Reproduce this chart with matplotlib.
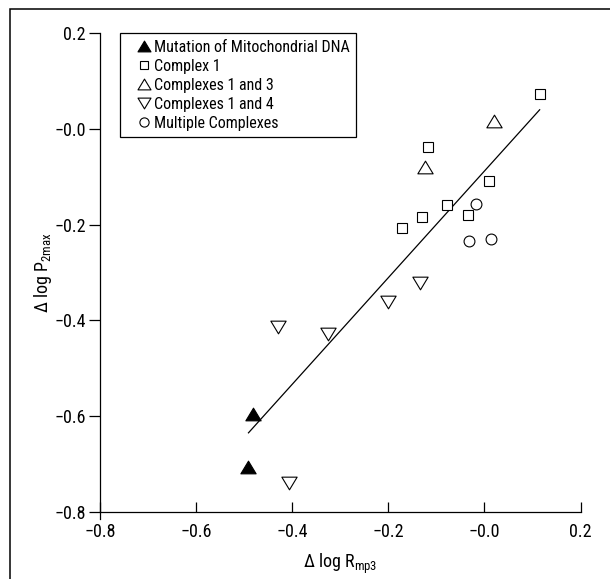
import matplotlib
matplotlib.use("Agg")
import matplotlib.pyplot as plt
from matplotlib import font_manager
from matplotlib.path import Path

names = {f.name for f in font_manager.fontManager.ttflist}
FONT = next((n for n in ['Nimbus Sans Narrow', 'Roboto Condensed', 'Archivo Narrow',
                         'PT Sans Narrow', 'Liberation Sans Narrow', 'Liberation Sans']
             if n in names), 'DejaVu Sans')
plt.rcParams['font.family'] = [FONT, 'DejaVu Sans']
plt.rcParams['mathtext.fontset'] = 'custom'
plt.rcParams['mathtext.rm'] = FONT
plt.rcParams['mathtext.it'] = FONT

# ---- data ----
mito_x = [-0.481, -0.492]
mito_y = [-0.595, -0.707]
c1_x = [0.115, -0.118, 0.010, -0.078, -0.129, -0.172, -0.034]
c1_y = [0.074, -0.038, -0.109, -0.160, -0.185, -0.207, -0.180]
c13_x = [0.021, -0.123]
c13_y = [0.016, -0.079]
c14_x = [-0.429, -0.325, -0.200, -0.133, -0.407]
c14_y = [-0.413, -0.429, -0.362, -0.322, -0.739]
multi_x = [-0.017, -0.032, 0.013]
multi_y = [-0.156, -0.234, -0.231]
fit_x = [-0.491, 0.115]
fit_y = [-0.635, 0.040]

labels = ['Mutation of Mitochondrial DNA', 'Complex 1', 'Complexes 1 and 3',
          'Complexes 1 and 4', 'Multiple Complexes']
tick_vals = [-0.8, -0.6, -0.4, -0.2, 0.0, 0.2]
tick_labels = ['\u22120.8', '\u22120.6', '\u22120.4', '\u22120.2', '\u22120.0', '0.2']

# wide triangles
up_tri = Path([(-1, -0.83), (1, -0.83), (0, 0.83), (-1, -0.83)],
              [Path.MOVETO, Path.LINETO, Path.LINETO, Path.CLOSEPOLY])
down_tri = Path([(-1, 0.83), (1, 0.83), (0, -0.83), (-1, 0.83)],
                [Path.MOVETO, Path.LINETO, Path.LINETO, Path.CLOSEPOLY])

fig = plt.figure(figsize=(6.10, 5.79), dpi=100)
ax = fig.add_axes([100/610, 1-511.8/579, 480.5/610, (511.8-33.2)/579])

# frame around the figure
fig.add_artist(plt.Rectangle((9.7/610, -0.05), 1.2, 1-9.2/579+0.05,
                             transform=fig.transFigure, fill=False,
                             edgecolor='black', linewidth=1.1))

ax.plot(fit_x, fit_y, color='black', linewidth=0.9)
mk = dict(linestyle='none', markeredgecolor='black', markeredgewidth=0.8)
h1, = ax.plot(mito_x, mito_y, marker=up_tri, markersize=11, color='black', **mk)
h2, = ax.plot(c1_x, c1_y, marker='s', markersize=7.2, markerfacecolor='white', **mk)
h3, = ax.plot(c13_x, c13_y, marker=up_tri, markersize=11, markerfacecolor='white', **mk)
h4, = ax.plot(c14_x, c14_y, marker=down_tri, markersize=11, markerfacecolor='white', **mk)
h5, = ax.plot(multi_x, multi_y, marker='o', markersize=7.8, markerfacecolor='white', **mk)

ax.set_xlim(-0.8, 0.2)
ax.set_ylim(-0.8, 0.2)
ax.set_xticks(tick_vals)
ax.set_xticklabels(tick_labels)
ax.set_yticks(tick_vals)
ax.set_yticklabels(tick_labels)
ax.tick_params(axis='x', direction='in', length=7, width=0.9, labelsize=13, pad=8)
ax.tick_params(axis='y', direction='out', length=8, width=0.9, labelsize=13, pad=2)
for s in ['top', 'right']:
    ax.spines[s].set_visible(False)
for s in ['left', 'bottom']:
    ax.spines[s].set_linewidth(0.9)
ax.spines['left'].set_bounds(-0.815, 0.2)

ax.set_xlabel('\u0394 log R$_{\\mathrm{mp3}}$', fontsize=13, labelpad=8)
ax.set_ylabel('\u0394 log P$_{\\mathrm{2max}}$', fontsize=13, labelpad=0)

leg = ax.legend([h1, h2, h3, h4, h5], labels, loc='upper left',
                bbox_to_anchor=(19.8/480.5, 1.0), fontsize=11.5,
                frameon=True, fancybox=False, edgecolor='black', framealpha=1,
                borderpad=0.4, labelspacing=0.25, handlelength=2.2,
                handletextpad=-0.45, borderaxespad=0, numpoints=1,
                markerscale=0.85)
leg.get_frame().set_linewidth(0.9)

fig.savefig('out.png', dpi=100)
